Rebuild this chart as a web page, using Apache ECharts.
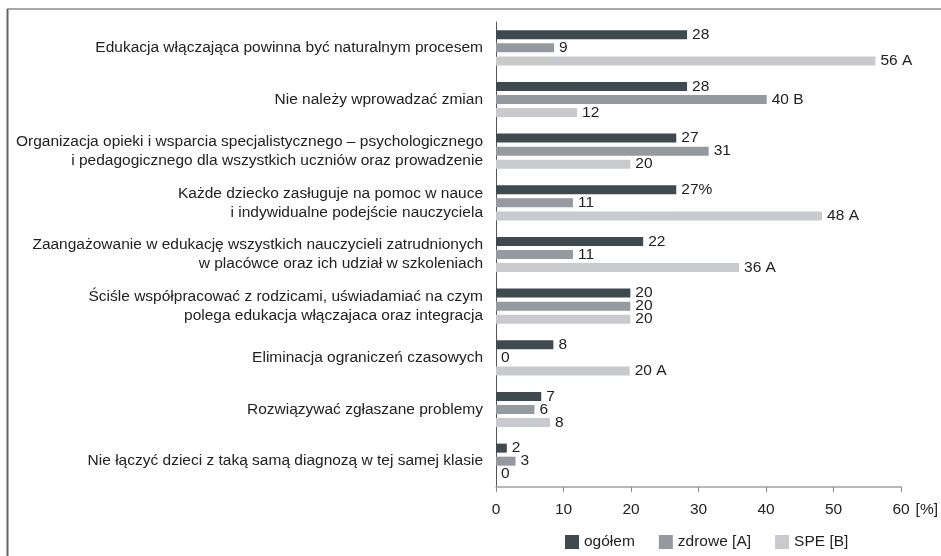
<!DOCTYPE html>
<html>
<head>
<meta charset="utf-8">
<script src="https://cdn.jsdelivr.net/npm/echarts@6/dist/echarts.min.js"></script>
<style>
html,body{margin:0;padding:0;background:#fff;}
#c{width:941px;height:556px;}
</style>
</head>
<body>
<div id="c"></div>
<script>
const categories = [
  'Edukacja włączająca powinna być naturalnym procesem',
  'Nie należy wprowadzać zmian',
  'Organizacja opieki i wsparcia specjalistycznego – psychologicznego\ni pedagogicznego dla wszystkich uczniów oraz prowadzenie',
  'Każde dziecko zasługuje na pomoc w nauce\ni indywidualne podejście nauczyciela',
  'Zaangażowanie w edukację wszystkich nauczycieli zatrudnionych\nw placówce oraz ich udział w szkoleniach',
  'Ściśle współpracować z rodzicami, uświadamiać na czym\npolega edukacja włączajaca oraz integracja',
  'Eliminacja ograniczeń czasowych',
  'Rozwiązywać zgłaszane problemy',
  'Nie łączyć dzieci z taką samą diagnozą w tej samej klasie'
];
const seriesNames = ['ogółem', 'zdrowe [A]', 'SPE [B]'];
const ogolem = [28.3, 28.3, 26.7, 26.7, 21.8, 19.9, 8.5, 6.7, 1.6];
const zdrowe = [8.6, 40.1, 31.5, 11.4, 11.4, 19.9, 0, 5.7, 2.9];
const spe = [56.2, 12, 19.9, 48.3, 36, 19.9, 19.8, 8, 0];
const ogolemLabels = ['28', '28', '27', '27%', '22', '20', '8', '7', '2'];
const zdroweLabels = ['9', '40 B', '31', '11', '11', '20', '0', '6', '3'];
const speLabels = ['56 A', '12', '20', '48 A', '36 A', '20', '20 A', '8', '0'];
const colors = ['#3f4950', '#959aa1', '#c9cacd'];

const FONT = '"Liberation Sans", Arial, sans-serif';
const FS = 15.5;
const chart = echarts.init(document.getElementById('c'), null, {renderer: 'canvas'});

function mk(name, data, labels, color) {
  return {
    name: name,
    type: 'bar',
    data: data,
    barWidth: 9,
    barGap: '45%',
    itemStyle: {color: color},
    label: {
      show: true,
      position: 'right',
      distance: 5,
      fontFamily: FONT,
      fontSize: FS,
      color: '#222',
      formatter: p => labels[p.dataIndex]
    },
    animation: false
  };
}

chart.setOption({
  animation: false,
  textStyle: {fontFamily: FONT},
  grid: {left: 496, right: 34, top: 22, bottom: 69, containLabel: false},
  legend: {
    data: seriesNames,
    left: 560,
    top: 529,
    itemWidth: 14,
    itemHeight: 14,
    itemGap: 24,
    icon: 'rect',
    textStyle: {fontFamily: FONT, fontSize: FS, color: '#222'}
  },
  xAxis: {
    type: 'value',
    min: 0,
    max: 60,
    interval: 10,
    name: '[%]',
    nameLocation: 'end',
    nameGap: -12,
    nameTextStyle: {fontFamily: FONT, fontSize: FS, color: '#222', verticalAlign: 'top', align: 'left', padding: [15, 0, 0, 0]},
    axisLine: {show: true, lineStyle: {color: '#a0a0a0', width: 1.5}},
    axisTick: {show: true, length: 5, lineStyle: {color: '#888'}},
    axisLabel: {fontFamily: FONT, fontSize: FS, color: '#222', margin: 15},
    splitLine: {show: false}
  },
  yAxis: {
    type: 'category',
    data: categories,
    inverse: true,
    axisLine: {show: true, lineStyle: {color: '#555', width: 1}},
    axisTick: {show: false},
    axisLabel: {fontFamily: FONT, fontSize: FS, color: '#222', margin: 13, lineHeight: 19, align: 'right'}
  },
  series: [
    mk(seriesNames[0], ogolem, ogolemLabels, colors[0]),
    mk(seriesNames[1], zdrowe, zdroweLabels, colors[1]),
    mk(seriesNames[2], spe, speLabels, colors[2])
  ],
  graphic: [
    {type: 'line', shape: {x1: 7, y1: 9, x2: 941, y2: 9}, style: {stroke: '#8a8a8a', lineWidth: 1.5}, silent: true},
    {type: 'line', shape: {x1: 7.5, y1: 9, x2: 7.5, y2: 556}, style: {stroke: '#666', lineWidth: 2}, silent: true}
  ]
});
</script>
</body>
</html>
